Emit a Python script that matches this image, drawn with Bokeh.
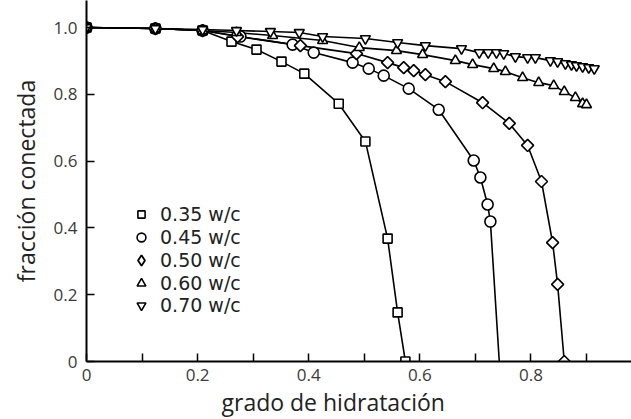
import math
from bokeh.plotting import figure
from bokeh.models import Range1d, FixedTicker, Legend, LegendItem, Title
from bokeh.embed import file_html
from bokeh.resources import INLINE

# ---------------- data ----------------
x_035 = [0.0, 0.124, 0.209, 0.261, 0.306, 0.351, 0.392, 0.454, 0.502, 0.542, 0.560, 0.574]
y_035 = [1.0, 0.997, 0.991, 0.958, 0.934, 0.898, 0.862, 0.772, 0.659, 0.368, 0.147, 0.0]

x_045 = [0.0, 0.124, 0.209, 0.277, 0.371, 0.409, 0.479, 0.508, 0.535, 0.580, 0.634, 0.697, 0.709, 0.722, 0.727]
y_045 = [1.0, 0.997, 0.991, 0.973, 0.949, 0.925, 0.895, 0.877, 0.856, 0.817, 0.754, 0.602, 0.551, 0.470, 0.419]
x_045_zero = 0.743  # where the 0.45 w/c curve reaches zero (no marker)

x_050 = [0.0, 0.124, 0.209, 0.272, 0.385, 0.486, 0.542, 0.571, 0.589, 0.610, 0.646, 0.713, 0.761, 0.794, 0.819, 0.839, 0.848, 0.860]
y_050 = [1.0, 0.997, 0.991, 0.973, 0.946, 0.922, 0.895, 0.880, 0.871, 0.859, 0.838, 0.775, 0.713, 0.647, 0.539, 0.356, 0.231, 0.0]

x_060 = [0.0, 0.124, 0.209, 0.270, 0.335, 0.425, 0.491, 0.558, 0.605, 0.664, 0.695, 0.733, 0.754, 0.785, 0.814, 0.841, 0.860, 0.880, 0.893, 0.900]
y_060 = [1.0, 0.997, 0.991, 0.985, 0.976, 0.961, 0.940, 0.931, 0.919, 0.901, 0.889, 0.877, 0.868, 0.850, 0.835, 0.826, 0.808, 0.790, 0.772, 0.769]

x_070 = [0.0, 0.124, 0.209, 0.270, 0.331, 0.383, 0.425, 0.502, 0.560, 0.610, 0.675, 0.707, 0.723, 0.738, 0.751,
         0.772, 0.794, 0.808, 0.835, 0.848, 0.862, 0.873, 0.882, 0.893, 0.904, 0.914]
y_070 = [1.0, 0.997, 0.994, 0.991, 0.988, 0.985, 0.973, 0.967, 0.955, 0.946, 0.937, 0.925, 0.925, 0.925, 0.922,
         0.913, 0.910, 0.910, 0.901, 0.898, 0.892, 0.889, 0.886, 0.883, 0.880, 0.877]

series_labels = ["0.35 w/c", "0.45 w/c", "0.50 w/c", "0.60 w/c", "0.70 w/c"]

x_label_ticks = [0.0, 0.2, 0.4, 0.6, 0.8]
x_minor_ticks = [0.1, 0.3, 0.5, 0.7, 0.9]
y_label_ticks = [0.0, 0.2, 0.4, 0.6, 0.8, 1.0]

x_title = "grado de hidratación"
y_title = "fracción conectada"

# ---------------- figure ----------------
FONT = "Open Sans"
LEGEND_FONT = "DejaVu Sans"

p = figure(width=631, height=419,
           x_range=Range1d(0, 0.981), y_range=Range1d(0, 1.081),
           output_backend="svg", toolbar_location=None,
           min_border_left=86, min_border_bottom=58, min_border_top=0, min_border_right=0)
p.grid.visible = False
p.outline_line_color = None
p.background_fill_color = "white"
p.border_fill_color = "white"

for ax in (p.xaxis[0], p.yaxis[0]):
    ax.axis_line_width = 2
    ax.axis_line_color = "black"
    ax.major_tick_out = 0
    ax.major_tick_in = 8
    ax.major_tick_line_width = 1.5
    ax.major_tick_line_color = "black"
    ax.major_label_text_font = FONT
    ax.major_label_text_font_size = "17px"
    ax.major_label_text_color = "#3a3a3a"
    ax.major_label_overrides = {0: "0", 1: "1.0"}

p.xaxis[0].ticker = FixedTicker(ticks=x_label_ticks, minor_ticks=x_minor_ticks)
p.xaxis[0].minor_tick_in = 8
p.xaxis[0].minor_tick_out = 0
p.xaxis[0].minor_tick_line_width = 1.5
p.xaxis[0].minor_tick_line_color = "black"
p.xaxis[0].major_label_standoff = 7

p.yaxis[0].ticker = FixedTicker(ticks=y_label_ticks)
p.yaxis[0].minor_tick_line_color = None
p.yaxis[0].major_label_standoff = 9
p.yaxis[0].axis_label = y_title
p.yaxis[0].axis_label_standoff = 9
p.yaxis[0].axis_label_text_font = FONT
p.yaxis[0].axis_label_text_font_size = "23px"
p.yaxis[0].axis_label_text_font_style = "normal"
p.yaxis[0].axis_label_text_color = "#222222"

p.add_layout(Title(text=x_title, align="left", offset=135, standoff=0,
                   text_font=FONT, text_font_size="23px", text_font_style="normal",
                   text_color="#222222"), "below")

LW = 1.6
MLW = 1.6

# lines
p.line(x_035, y_035, line_color="black", line_width=LW)
p.line(x_045 + [x_045_zero], y_045 + [0.0], line_color="black", line_width=LW)
p.line(x_050, y_050, line_color="black", line_width=LW)
p.line(x_060, y_060, line_color="black", line_width=LW)
p.line(x_070, y_070, line_color="black", line_width=LW)

# markers
mk = dict(fill_color="white", line_color="black", line_width=MLW)
r1 = p.scatter(x_035, y_035, marker="square", size=9, **mk)
r2 = p.scatter(x_045, y_045, marker="circle", size=11, **mk)
r3 = p.scatter(x_050, y_050, marker="square", angle=math.pi / 4, size=8.5, **mk)
r4 = p.scatter(x_060, y_060, marker="triangle", size=10, **mk)
r5 = p.scatter(x_070, y_070, marker="inverted_triangle", size=10, **mk)
# legend-only key for the diamonds (legend icons ignore the marker angle); NaN point draws nothing
r3_key = p.scatter([float("nan")], [float("nan")], marker="diamond", size=12,
                   fill_color="white", line_color="black", line_width=1.8)

# one legend entry per row so the rows can sit as close together as in the original
legend_renderers = [r1, r2, r3_key, r4, r5]
legend_glyph_box = [18, 22, 26, 22, 22]
row_bottoms = [136, 113, 88, 67, 45]
for lab, r, gb, yb in zip(series_labels, legend_renderers, legend_glyph_box, row_bottoms):
    lg = Legend(items=[LegendItem(label=lab, renderers=[r])],
                location=(55 - gb // 2, yb), orientation="vertical",
                glyph_width=gb, glyph_height=gb, label_standoff=19 - gb // 2, spacing=0,
                padding=0, margin=0, border_line_color=None, background_fill_alpha=0,
                label_text_font=LEGEND_FONT, label_text_font_size="19px", label_text_color="#222222",
                label_text_baseline="middle")
    p.add_layout(lg)

open("out.html", "w").write(file_html(p, INLINE))
